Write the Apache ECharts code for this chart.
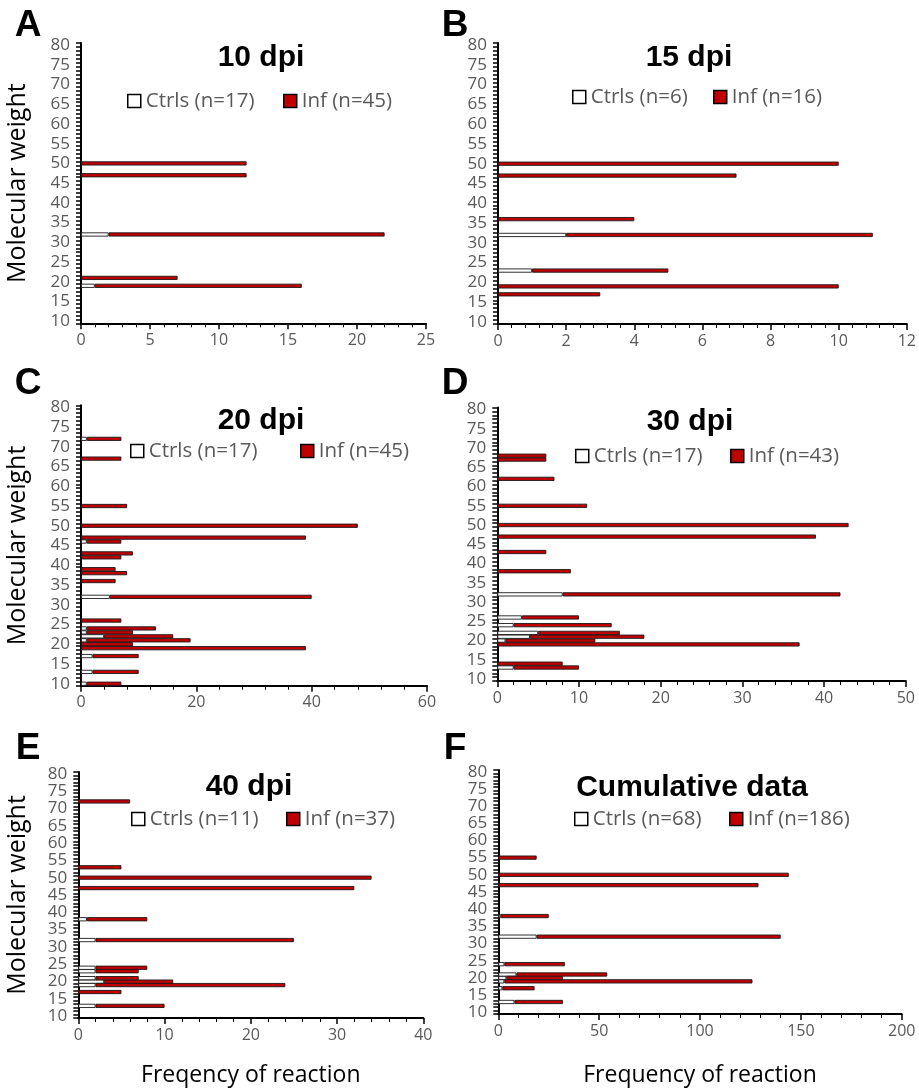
<!DOCTYPE html>
<html><head><meta charset="utf-8">
<script src="https://cdn.jsdelivr.net/npm/echarts@6/dist/echarts.min.js"></script>
<style>html,body{margin:0;padding:0;background:#fff}#chart{width:919px;height:1088px}</style>
</head><body><div id="chart"></div>
<script>
// ---- DATA ----
const MW_CATEGORIES = ['10','11','12','13','14','15','16','17','18','19','20','21','22','23','24','25','26','27','28','29','30','31','32','33','34','35','36','37','38','39','40','41','42','43','44','45','46','47','48','49','50','51','52','53','54','55','56','57','58','59','60','61','62','63','64','65','66','67','68','69','70','71','72','73','74','75','76','77','78','79','80'];

// Panel A: 10 dpi
const A_MW   = [50, 47, 32, 21, 19];
const A_CTRL = [0, 0, 2, 0, 1];
const A_INF  = [12, 12, 20, 7, 15];
const A_XTICKS = [0, 5, 10, 15, 20, 25];

// Panel B: 15 dpi
const B_MW   = [50, 47, 36, 32, 23, 19, 17];
const B_CTRL = [0, 0, 0, 2, 1, 0, 0];
const B_INF  = [10, 7, 4, 9, 4, 10, 3];
const B_XTICKS = [0, 2, 4, 6, 8, 10, 12];

// Panel C: 20 dpi
const C_MW   = [72, 67, 55, 50, 47, 46, 43, 42, 39, 38, 36, 32, 26, 24, 23, 22, 21, 20, 19, 17, 13, 10];
const C_CTRL = [1, 0, 0, 0, 0, 1, 0, 0, 0, 0, 0, 5, 0, 1, 1, 4, 1, 0, 0, 2, 2, 1];
const C_INF  = [6, 7, 8, 48, 39, 6, 9, 7, 6, 8, 6, 35, 7, 12, 8, 12, 18, 9, 39, 8, 8, 6];
const C_XTICKS = [0, 20, 40, 60];

// Panel D: 30 dpi
const D_MW   = [68, 67, 62, 55, 50, 47, 43, 38, 32, 26, 24, 22, 21, 20, 19, 14, 13];
const D_CTRL = [0, 0, 0, 0, 0, 0, 0, 0, 8, 3, 2, 5, 4, 1, 0, 0, 2];
const D_INF  = [6, 6, 7, 11, 43, 39, 6, 9, 34, 7, 12, 10, 14, 11, 37, 8, 8];
const D_XTICKS = [0, 10, 20, 30, 40, 50];

// Panel E: 40 dpi
const E_MW   = [72, 53, 50, 47, 38, 32, 24, 23, 21, 20, 19, 17, 13];
const E_CTRL = [0, 0, 0, 0, 1, 2, 2, 2, 2, 3, 2, 0, 2];
const E_INF  = [6, 5, 34, 32, 7, 23, 6, 5, 5, 8, 22, 5, 8];
const E_XTICKS = [0, 10, 20, 30, 40];

// Panel F: Cumulative data
const F_MW   = [55, 50, 47, 38, 32, 24, 21, 20, 19, 17, 13];
const F_CTRL = [0, 0, 0, 1, 19, 3, 9, 4, 3, 2, 8];
const F_INF  = [19, 144, 129, 24, 121, 30, 45, 28, 123, 16, 24];
const F_XTICKS = [0, 50, 100, 150, 200];

const TITLES = ['10 dpi', '15 dpi', '20 dpi', '30 dpi', '40 dpi', 'Cumulative data'];
const LETTERS = ['A', 'B', 'C', 'D', 'E', 'F'];
const CTRL_NAMES = ['Ctrls (n=17)', 'Ctrls (n=6)', 'Ctrls (n=17)', 'Ctrls (n=17)', 'Ctrls (n=11)', 'Ctrls (n=68)'];
const INF_NAMES  = ['Inf (n=45)', 'Inf (n=16)', 'Inf (n=45)', 'Inf (n=43)', 'Inf (n=37)', 'Inf (n=186)'];
const Y_NAME = 'Molecular weight';
const X_NAMES = [null, null, null, null, 'Freqency of reaction', 'Frequency of reaction'];

// ---- LAYOUT ----
const layout = [
  {grid:{left:81,   top:43,    width:345,   height:280.3}, title:[261,58],  letter:[28,26],  leg:[[127,101],[283,101]], yName:true},
  {grid:{left:498,  top:43,    width:412,   height:281},   title:[689,58],  letter:[455,26], leg:[[572,97],[713,97]]},
  {grid:{left:81,   top:405.3, width:346,   height:280.4}, title:[261,421], letter:[28,384], leg:[[130,451],[300,451]], yName:true},
  {grid:{left:497.3,top:407.6, width:408.5, height:273.4}, title:[690,422], letter:[455,384],leg:[[575,456],[730,456]]},
  {grid:{left:78.3, top:772,   width:345,   height:258},   title:[249,787], letter:[28,749], leg:[[131,819],[286,819]], yName:true, xGap:46},
  {grid:{left:498.3,top:770,   width:403.4, height:253.5}, title:[692,788], letter:[455,749],leg:[[574,819],[729,819]], xGap:50}
];

const panelData = [
  [A_MW, A_CTRL, A_INF, A_XTICKS],
  [B_MW, B_CTRL, B_INF, B_XTICKS],
  [C_MW, C_CTRL, C_INF, C_XTICKS],
  [D_MW, D_CTRL, D_INF, D_XTICKS],
  [E_MW, E_CTRL, E_INF, E_XTICKS],
  [F_MW, F_CTRL, F_INF, F_XTICKS]
];

function spread(mw, vals) {
  const arr = MW_CATEGORIES.map(() => null);
  mw.forEach((m, i) => {
    const idx = MW_CATEGORIES.indexOf(String(m));
    if (idx >= 0 && vals[i]) arr[idx] = vals[i];
  });
  return arr;
}

const LABEL_FONT = '"Open Sans", "Liberation Sans", sans-serif';
const TITLE_FONT = '"Liberation Sans", Arial, sans-serif';
const GREY = '#595959';
const RED = '#C00000';

const grids = [], xAxes = [], yAxes = [], series = [], legends = [], graphics = [];

layout.forEach((L, i) => {
  const [mw, ctrl, inf, xt] = panelData[i];
  grids.push(Object.assign({containLabel:false}, L.grid));
  xAxes.push({
    type:'value', gridIndex:i, min:xt[0], max:xt[xt.length-1], interval:xt[1]-xt[0],
    splitLine:{show:false},
    axisLine:{show:true, lineStyle:{color:'#000', width:2}},
    axisTick:{show:true, length:6, lineStyle:{color:'#000', width:1.5}},
    minorTick:{show:true, splitNumber:5, length:4, lineStyle:{color:'#000', width:1}},
    axisLabel:{color:GREY, fontSize:16, fontFamily:LABEL_FONT, margin:9},
    name: X_NAMES[i] || '', nameLocation:'middle', nameGap: L.xGap || 45,
    nameTextStyle:{color:'#000', fontSize:23, fontFamily:LABEL_FONT}
  });
  yAxes.push({
    type:'category', gridIndex:i, data:MW_CATEGORIES, boundaryGap:true,
    axisLine:{show:true, lineStyle:{color:'#000', width:2}},
    axisTick:{show:true, interval:0, length:5, alignWithLabel:false, lineStyle:{color:'#000', width:1.5}},
    axisLabel:{interval:4, color:GREY, fontSize:17, fontFamily:LABEL_FONT, margin:11},
    splitLine:{show:false},
    name: L.yName ? Y_NAME : '', nameLocation:'middle', nameGap: L.grid.left - 30,
    nameTextStyle:{color:'#000', fontSize:25, fontFamily:LABEL_FONT}
  });
  series.push({
    type:'bar', name:CTRL_NAMES[i], xAxisIndex:i, yAxisIndex:i, stack:'s'+i,
    data: spread(mw, ctrl), barWidth:4.2,
    itemStyle:{color:'#ffffff', borderColor:'#1a1a1a', borderWidth:0.9},
    emphasis:{disabled:true}
  });
  series.push({
    type:'bar', name:INF_NAMES[i], xAxisIndex:i, yAxisIndex:i, stack:'s'+i,
    data: spread(mw, inf), barWidth:4.2,
    itemStyle:{color:RED, borderColor:'#1a1a1a', borderWidth:0.9},
    emphasis:{disabled:true}
  });
  [[CTRL_NAMES[i], '#ffffff'], [INF_NAMES[i], RED]].forEach((it, k) => {
    legends.push({
      data:[it[0]], left:L.leg[k][0], top:L.leg[k][1]-11, padding:0,
      icon:'rect', itemWidth:13, itemHeight:13, selectedMode:false,
      itemStyle:{color:it[1], borderColor:'#000', borderWidth:1.5},
      textStyle:{color:GREY, fontSize:20.5, fontFamily:LABEL_FONT, lineHeight:22}
    });
  });
  graphics.push({
    type:'text', x:L.title[0], y:L.title[1],
    style:{text:TITLES[i], font:'bold 30px ' + TITLE_FONT, fill:'#000', textAlign:'center', textVerticalAlign:'middle'}
  });
  graphics.push({
    type:'text', x:L.letter[0], y:L.letter[1],
    style:{text:LETTERS[i], font:'bold 37px ' + TITLE_FONT, fill:'#000', textAlign:'center', textVerticalAlign:'middle'}
  });
});

const chart = echarts.init(document.getElementById('chart'), null, {renderer:'canvas'});
chart.setOption({
  animation:false,
  backgroundColor:'#fff',
  grid:grids, xAxis:xAxes, yAxis:yAxes, series:series, legend:legends, graphic:graphics,
  tooltip:{show:false}
});
</script></body></html>
